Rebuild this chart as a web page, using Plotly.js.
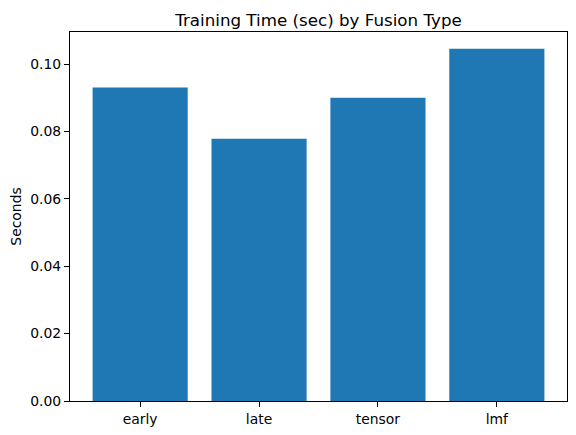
<!DOCTYPE html>
<html>
<head>
<meta charset="utf-8">
<script src="https://cdn.plot.ly/plotly-3.0.1.min.js"></script>
<style>
  html, body { margin: 0; padding: 0; background: #ffffff; }
  #chart { width: 576px; height: 435px; }
</style>
</head>
<body>
<div id="chart"></div>
<script>
// values
const fusion_types = ['early', 'late', 'tensor', 'lmf'];
const train_seconds = [0.0930, 0.0778, 0.0900, 0.1045];
const y_ticks = [0, 0.02, 0.04, 0.06, 0.08, 0.10];

const trace = {
    x: [0, 1, 2, 3],
    y: train_seconds,
    type: 'bar',
    marker: { color: '#1f77b4' },
    width: 0.8,
    hoverinfo: 'skip'
};

const layout = {
    width: 576,
    height: 435,
    margin: { l: 70, r: 9, t: 32, b: 34 },
    paper_bgcolor: '#ffffff',
    plot_bgcolor: '#ffffff',
    font: { family: 'DejaVu Sans', color: '#000000', size: 13.9 },
    title: {
        text: 'Training Time (sec) by Fusion Type',
        font: { family: 'DejaVu Sans', size: 16.7, color: '#000000' },
        x: 0.5,
        xref: 'paper',
        y: 1,
        yref: 'paper',
        yanchor: 'bottom',
        pad: { b: 6 }
    },
    showlegend: false,
    xaxis: {
        range: [-0.59, 3.59],
        tickvals: [0, 1, 2, 3],
        ticktext: fusion_types,
        ticks: 'outside',
        ticklen: 5,
        tickcolor: '#000000',
        showline: true,
        linecolor: '#000000',
        linewidth: 1,
        mirror: true,
        showgrid: false,
        zeroline: false,
        tickfont: { size: 13.9 }
    },
    yaxis: {
        range: [0, 0.1095],
        tickvals: y_ticks,
        tickformat: '.2f',
        ticks: 'outside',
        ticklen: 5,
        tickcolor: '#000000',
        showline: true,
        linecolor: '#000000',
        linewidth: 1,
        mirror: true,
        showgrid: false,
        zeroline: false,
        tickfont: { size: 13.9 },
        title: { text: 'Seconds', font: { size: 13.9 }, standoff: 5 }
    }
};

Plotly.newPlot('chart', [trace], layout, { displayModeBar: false, staticPlot: true });
</script>
</body>
</html>
